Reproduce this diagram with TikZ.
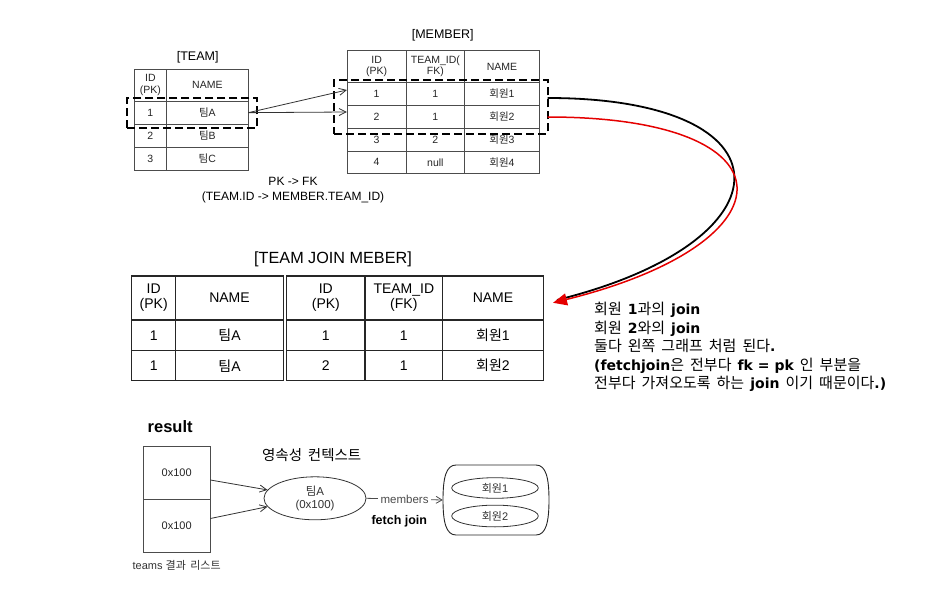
\documentclass[tikz,border=0pt]{standalone}
\usepackage{fontspec}
\setmainfont{Liberation Sans}
\newfontfamily\kr[WordSpace=1.8]{Noto Sans CJK KR}
\newfontfamily\dv{DejaVu Sans}
\newcommand\dvB[1]{{\dv\bfseries\fontsize{14}{18.5}\selectfont #1}}
\usetikzlibrary{arrows.meta,shapes.geometric}
\tikzset{
  tcell/.style={draw=black!70, line width=0.8pt, inner sep=0pt, align=center,
    text=black!85, font=\fontsize{10.5}{11.5}\selectfont},
  jcell/.style={draw=black!85, line width=1.2pt, inner sep=0pt, align=center,
    text=black, font=\fontsize{14}{15}\selectfont},
  dbox/.style={draw=black, line width=2pt, dash pattern=on 8pt off 4pt},
  thin arrow/.style={draw=black!80, line width=0.8pt, -{Straight Barb[length=7pt,width=7pt]}},
  ttl/.style={inner sep=0pt, font=\fontsize{12.5}{13}\selectfont},
}
\begin{document}
\begin{tikzpicture}[x=1pt,y=-1pt]
\useasboundingbox (0,0) rectangle (950,615);
\fill[white] (0,0) rectangle (950,615);

% ---------- TEAM table ----------
\node[ttl] (teamttl) at (197.7,57.7) {[TEAM]};
\node[tcell, minimum width=32.7pt, minimum height=31.7pt] (th1) at (150.35,85.15) {ID\\(PK)};
\node[tcell, minimum width=81.3pt, minimum height=31.7pt] (th2) at (207.35,85.15) {NAME};
\node[tcell, minimum width=32.7pt, minimum height=23.3pt] (t1i) at (150.35,112.65) {1};
\node[tcell, minimum width=81.3pt, minimum height=23.3pt] (t1n) at (207.35,112.65) {{\kr 팀}A};
\node[tcell, minimum width=32.7pt, minimum height=23pt] (t2i) at (150.35,135.8) {2};
\node[tcell, minimum width=81.3pt, minimum height=23pt] (t2n) at (207.35,135.8) {{\kr 팀}B};
\node[tcell, minimum width=32.7pt, minimum height=22.7pt] (t3i) at (150.35,158.65) {3};
\node[tcell, minimum width=81.3pt, minimum height=22.7pt] (t3n) at (207.35,158.65) {{\kr 팀}C};

% ---------- MEMBER table ----------
\node[ttl] (memttl) at (442.7,35) {[MEMBER]};
\node[tcell, minimum width=58.7pt, minimum height=31.6pt] (mh1) at (376.65,66.5) {ID\\(PK)};
\node[tcell, minimum width=58.7pt, minimum height=31.6pt] (mh2) at (435.35,66.5) {TEAM\_ID(\\FK)};
\node[tcell, minimum width=74.6pt, minimum height=31.6pt] (mh3) at (502,66.5) {NAME};
\node[tcell, minimum width=58.7pt, minimum height=23.4pt] (m1i) at (376.65,94) {1};
\node[tcell, minimum width=58.7pt, minimum height=23.4pt] (m1t) at (435.35,94) {1};
\node[tcell, minimum width=74.6pt, minimum height=23.4pt] (m1n) at (502,94) {{\kr 회원}1};
\node[tcell, minimum width=58.7pt, minimum height=22.6pt] (m2i) at (376.65,117) {2};
\node[tcell, minimum width=58.7pt, minimum height=22.6pt] (m2t) at (435.35,117) {1};
\node[tcell, minimum width=74.6pt, minimum height=22.6pt] (m2n) at (502,117) {{\kr 회원}2};
\node[tcell, minimum width=58.7pt, minimum height=23pt] (m3i) at (376.65,139.8) {3};
\node[tcell, minimum width=58.7pt, minimum height=23pt] (m3t) at (435.35,139.8) {2};
\node[tcell, minimum width=74.6pt, minimum height=23pt] (m3n) at (502,139.8) {{\kr 회원}3};
\node[tcell, minimum width=58.7pt, minimum height=22pt] (m4i) at (376.65,162.3) {4};
\node[tcell, minimum width=58.7pt, minimum height=22pt] (m4t) at (435.35,162.3) {null};
\node[tcell, minimum width=74.6pt, minimum height=22pt] (m4n) at (502,162.3) {{\kr 회원}4};

% dashed selections
\node[dbox, minimum width=130pt, minimum height=30pt] (tsel) at (192.3,113.3) {};
\node[dbox, minimum width=213.4pt, minimum height=54pt] (msel) at (441,107) {};

% PK -> FK arrows
\draw[thin arrow] (t1n.east) -- ([yshift=4pt]m1i.west);
\draw[thin arrow] (t1n.east) -- ([yshift=5pt]m2i.west);

\node[ttl, align=center, font=\fontsize{12}{14.7}\selectfont] (pkfk) at (293,190.3) {PK -> FK\\(TEAM.ID -> MEMBER.TEAM\_ID)};

% ---------- JOIN table ----------
\node[inner sep=0pt, font=\fontsize{16.2}{17}\selectfont] (jttl) at (333,259) {[TEAM JOIN MEBER]};
\node[jcell, minimum width=44pt, minimum height=44pt] (jh1) at (153.7,298) {ID\\(PK)};
\node[jcell, minimum width=107.6pt, minimum height=44pt] (jh2) at (229.5,298) {NAME};
\node[jcell, minimum width=44pt, minimum height=30.7pt] (j1a) at (153.7,335.35) {1};
\node[jcell, minimum width=107.6pt, minimum height=30.7pt] (j1b) at (229.5,335.35) {{\kr 팀}A};
\node[jcell, minimum width=44pt, minimum height=30pt] (j2a) at (153.7,365.7) {1};
\node[jcell, minimum width=107.6pt, minimum height=30pt] (j2b) at (229.5,365.7) {{\kr 팀}A};

\node[jcell, minimum width=78.3pt, minimum height=44pt] (jh3) at (325.85,298) {ID\\(PK)};
\node[jcell, minimum width=77.7pt, minimum height=44pt] (jh4) at (403.85,298) {TEAM\_ID\\(FK)};
\node[jcell, minimum width=100.6pt, minimum height=44pt] (jh5) at (493,298) {NAME};
\node[jcell, minimum width=78.3pt, minimum height=30.7pt] (j1c) at (325.85,335.35) {1};
\node[jcell, minimum width=77.7pt, minimum height=30.7pt] (j1d) at (403.85,335.35) {1};
\node[jcell, minimum width=100.6pt, minimum height=30.7pt] (j1e) at (493,335.35) {{\kr 회원}1};
\node[jcell, minimum width=78.3pt, minimum height=30pt] (j2c) at (325.85,365.7) {2};
\node[jcell, minimum width=77.7pt, minimum height=30pt] (j2d) at (403.85,365.7) {1};
\node[jcell, minimum width=100.6pt, minimum height=30pt] (j2e) at (493,365.7) {{\kr 회원}2};

% ---------- curved arrows ----------
\coordinate (cb0) at (547.7,98);
\coordinate (cr0) at (547.7,117);
\coordinate (cb1) at (557,300);
\coordinate (cr1) at (553,302.8);
\draw[black, line width=1.8pt] (cb0) .. controls (795,98) and (795,241) .. (cb1);
\draw[red!90!black, line width=1.5pt, -{Triangle[length=14pt,width=12pt]}] (cr0) .. controls (797,117) and (797,242) .. (cr1);

\node[anchor=west, align=left, inner sep=0pt, font=\fontsize{15}{18.5}\selectfont] (note) at (594,347)
{{\kr 회원 }\dvB{1}{\kr 과의 }\dvB{join}\\
{\kr 회원 }\dvB{2}{\kr 와의 }\dvB{join}\\
{\kr 둘다 왼쪽 그래프 처럼 된다}\dvB{.}\\
\dvB{(fetchjoin}{\kr 은 전부다 }\dvB{fk = pk}{\kr\ 인 부분을}\\
{\kr 전부다 가져오도록 하는 }\dvB{join}{\kr\ 이기 때문이다}\dvB{.)}};

% ---------- bottom: result ----------
\node[anchor=west, inner sep=0pt, font=\bfseries\fontsize{16.5}{17}\selectfont] (res) at (147.5,426.7) {result};
\node[tcell, minimum width=66.7pt, minimum height=52.6pt, font=\fontsize{11}{12}\selectfont] (r1) at (176.65,473) {0x100};
\node[tcell, minimum width=66.7pt, minimum height=53.4pt, font=\fontsize{11}{12}\selectfont] (r2) at (176.65,526) {0x100};
\node[inner sep=0pt, text=black!80, font=\fontsize{11}{12}\selectfont] (rcap) at (176.7,565) {teams {\kr 결과 리스트}};

\node[inner sep=0pt, font=\fontsize{14.5}{15}\selectfont] (pctx) at (311.7,455) {\kr 영속성 컨텍스트};
\node[draw=black!80, line width=0.8pt, ellipse, minimum width=102pt, minimum height=43pt, inner sep=0pt,
  align=center, text=black!80, font=\fontsize{11.5}{13}\selectfont] (teamA) at (315,498.3) {{\kr 팀}A\\(0x100)};

\draw[thin arrow] ([yshift=-7pt]r1.east) -- (teamA.170);
\draw[thin arrow] ([yshift=7.5pt]r2.east) -- (teamA.190);

% collection box
\node[minimum width=106pt, minimum height=70pt, inner sep=0pt] (coll) at (496,500) {};
\draw[black!85, line width=0.9pt] (456,465) -- (536,465)
  .. controls (546,465) and (549,478) .. (549,500)
  .. controls (549,522) and (546,535) .. (536,535) -- (456,535)
  .. controls (446,535) and (443,522) .. (443,500)
  .. controls (443,478) and (446,465) .. (456,465) -- cycle;
\node[draw=black!80, line width=0.8pt, ellipse, minimum width=86.6pt, minimum height=20.6pt, inner sep=0pt,
  text=black!80, font=\fontsize{11}{12}\selectfont] (mem1) at (495,488) {{\kr 회원}1};
\node[draw=black!80, line width=0.8pt, ellipse, minimum width=86.6pt, minimum height=21.7pt, inner sep=0pt,
  text=black!80, font=\fontsize{11}{12}\selectfont] (mem2) at (495,516) {{\kr 회원}2};

\draw[draw=black!70, line width=0.8pt, -{Straight Barb[length=6pt,width=7pt]}] (teamA.east) -- (coll.west)
  node[midway, fill=white, inner sep=2.5pt, text=black!70, font=\fontsize{11.5}{12}\selectfont] (memlbl) {members};
\node[inner sep=0pt, font=\bfseries\fontsize{12.5}{13}\selectfont] (fj) at (399.3,521) {fetch join};
\end{tikzpicture}
\end{document}
